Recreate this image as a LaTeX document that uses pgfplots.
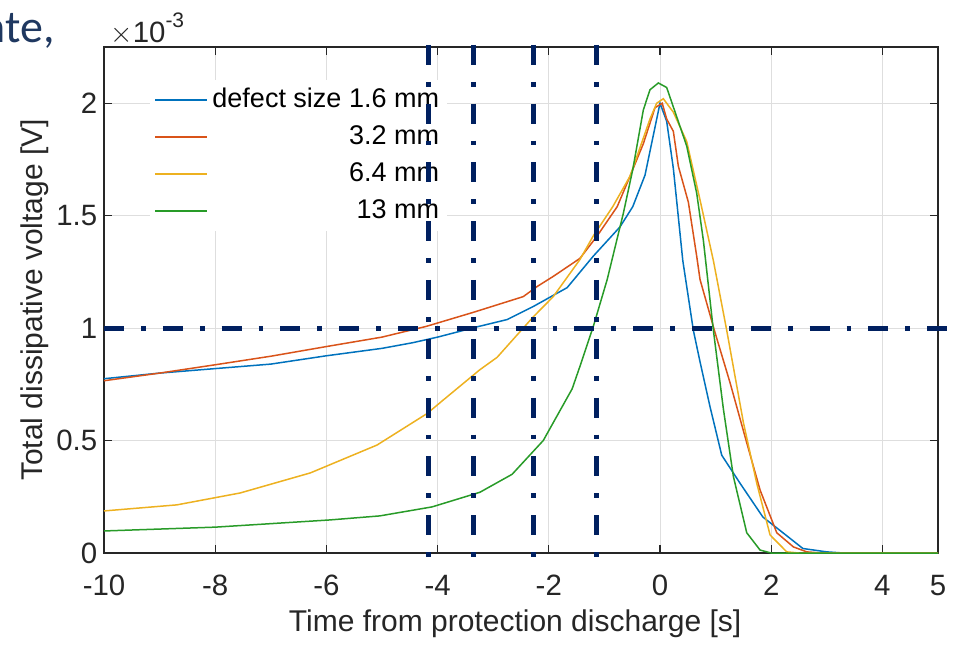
\documentclass[border=0pt]{standalone}
\usepackage{fontspec}
\setmainfont{Liberation Sans}
\newfontfamily\slidefont{Carlito}
\usepackage{pgfplots}
\pgfplotsset{compat=1.18}
\definecolor{mblue}{RGB}{0,114,189}
\definecolor{morange}{RGB}{217,83,25}
\definecolor{myellow}{RGB}{237,177,32}
\definecolor{mgreen}{RGB}{40,155,40}
\definecolor{navy}{RGB}{0,32,96}
\definecolor{axgray}{RGB}{38,38,38}
\definecolor{slide}{RGB}{31,56,96}
\tikzset{refline/.style={navy, line width=2.5pt, line cap=butt,
    dash pattern=on 10pt off 8.5pt on 2.4pt off 8.5pt}}
\begin{document}
\fontsize{13.5}{16}\selectfont
\begin{tikzpicture}
\useasboundingbox (-52pt,-45.5pt) rectangle (426.5pt,276.5pt);
\node[anchor=base east, text=slide, font=\slidefont\fontsize{23}{26}\selectfont, inner sep=0pt] at (-24.5pt,255pt) {nte,};
\node[anchor=base west, inner sep=0pt, text=axgray, font=\fontsize{14.7}{16}\selectfont] at (3pt,255pt) {$\times$10\raisebox{7.5pt}{\fontsize{10.5}{12}\selectfont -3}};
\begin{axis}[
  at={(0,0)}, anchor=south west, scale only axis, width=417pt, height=253pt,
  xmin=-10, xmax=5, ymin=0, ymax=2.25,
  xtick={-10,-8,-6,-4,-2,0,2,4,5}, xticklabels={-10,-8,-6,-4,-2,0,2,4,5},
  ytick={0,0.5,1,1.5,2}, yticklabels={0,0.5,1,1.5,2},
  tick align=inside, major tick length=4pt,
  grid=major, major grid style={color=black!13, line width=0.5pt},
  axis line style={axgray, line width=0.6pt}, tick style={axgray, line width=0.6pt},
  ticklabel style={text=axgray, font=\fontsize{14.7}{16}\selectfont},
  xticklabel style={anchor=base, yshift=-21pt},
  yticklabel style={xshift=1.3pt},
  xlabel={Time from protection discharge [s]}, ylabel={Total dissipative voltage [V]},
  label style={text=axgray, font=\fontsize{15}{17}\selectfont},
  xlabel style={at={(axis description cs:0.493,-0.156)}, anchor=base},
  ylabel style={at={(axis description cs:-0.055,0.5)}, anchor=south},
  legend style={at={(0.055,0.935)}, anchor=north west, draw=none, fill=white,
    font=\fontsize{13.5}{16}\selectfont, row sep=3pt, inner xsep=2pt},
  legend cell align=right,
  legend image code/.code={\draw[#1, line width=1.1pt] (0pt,0pt) -- (26pt,0pt);},
  every axis plot/.append style={line width=0.75pt},
]
\addplot[mblue] coordinates {
(-10,0.775) (-9,0.80) (-8,0.82) (-7,0.84) (-6,0.877) (-5,0.91) (-4.45,0.935) (-4,0.96)
(-3.3,1.005) (-2.75,1.038) (-2.28,1.096) (-1.67,1.18) (-1.2,1.32) (-0.72,1.45) (-0.49,1.54)
(-0.27,1.68) (0.0,2.0) (0.12,1.92) (0.24,1.71) (0.41,1.30) (0.6,0.99) (0.72,0.85) (0.9,0.65)
(1.11,0.435) (1.44,0.31) (1.85,0.16) (2.16,0.10) (2.57,0.02) (3.0,0.005) (3.3,0) (5,0)};
\addlegendentry{defect size 1.6 mm}
\addplot[morange] coordinates {
(-10,0.766) (-9,0.80) (-8,0.837) (-7,0.875) (-6,0.918) (-5,0.96) (-4.2,1.008) (-3.36,1.07)
(-2.46,1.14) (-2.21,1.185) (-1.92,1.23) (-1.44,1.31) (-1.13,1.41) (-0.77,1.54) (-0.54,1.675)
(-0.3,1.82) (-0.09,1.98) (0.04,2.0) (0.12,1.93) (0.24,1.875) (0.33,1.72) (0.51,1.56) (0.66,1.32)
(0.72,1.216) (0.99,0.98) (1.26,0.757) (1.56,0.49) (1.8,0.28) (2.1,0.09) (2.4,0.027) (2.64,0.005)
(2.9,0) (5,0)};
\addlegendentry{3.2 mm}
\addplot[myellow] coordinates {
(-10,0.187) (-8.69,0.214) (-7.55,0.267) (-6.29,0.356) (-5.09,0.48) (-4.19,0.62) (-3.9,0.68)
(-3.24,0.815) (-2.93,0.87) (-2.28,1.05) (-1.92,1.14) (-1.44,1.305) (-1.2,1.41) (-0.85,1.54)
(-0.54,1.675) (-0.49,1.71) (-0.18,1.93) (-0.06,2.0) (0.06,2.02) (0.24,1.96) (0.48,1.83)
(0.72,1.57) (0.96,1.30) (1.2,0.99) (1.5,0.58) (1.74,0.31) (1.98,0.08) (2.28,0.005) (2.5,0) (5,0)};
\addlegendentry{6.4 mm}
\addplot[mgreen] coordinates {
(-10,0.098) (-8,0.115) (-5.94,0.147) (-5.04,0.165) (-4.1,0.205) (-3.24,0.27) (-2.66,0.35)
(-2.1,0.50) (-1.58,0.73) (-1.44,0.83) (-1.2,1.007) (-0.95,1.216) (-0.66,1.51) (-0.49,1.705)
(-0.3,1.97) (-0.18,2.06) (-0.03,2.09) (0.12,2.07) (0.3,1.94) (0.48,1.81) (0.66,1.60) (0.78,1.39)
(0.96,0.99) (1.14,0.64) (1.32,0.34) (1.56,0.09) (1.8,0.013) (2.0,0) (5,0)};
\addlegendentry{13 mm}
\end{axis}
\begin{axis}[
  at={(0,0)}, anchor=south west, scale only axis, width=417pt, height=253pt,
  xmin=-10, xmax=5, ymin=0, ymax=2.25, hide axis, clip=false,
]
\addplot[refline] coordinates {(-10,1) (5.34,1)};
\addplot[refline] coordinates {(-4.167,2.26) (-4.167,-0.03)};
\addplot[refline] coordinates {(-3.357,2.26) (-3.357,-0.03)};
\addplot[refline] coordinates {(-2.278,2.26) (-2.278,-0.03)};
\addplot[refline] coordinates {(-1.15,2.26) (-1.15,-0.03)};
\end{axis}
\end{tikzpicture}
\end{document}
